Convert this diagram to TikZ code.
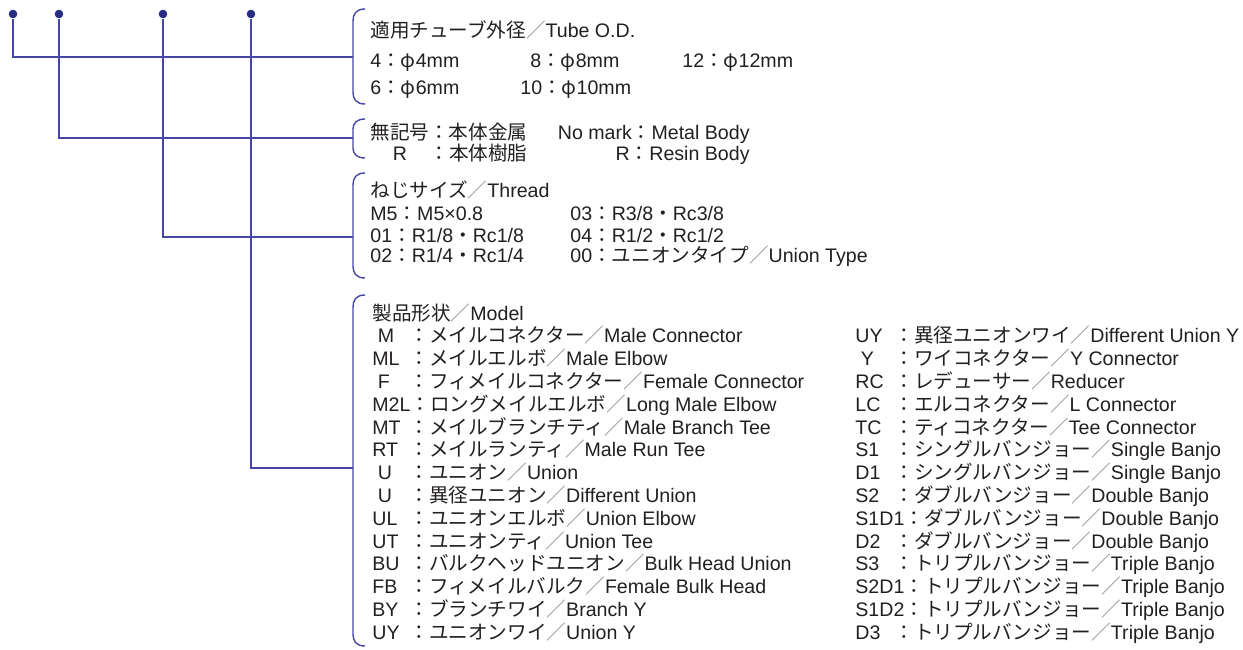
\documentclass[tikz,border=0pt]{standalone}
\usepackage{fontspec}
\setmainfont{Liberation Sans}
\newfontfamily\jp{Noto Sans CJK JP}
\usepackage{tikz}
\definecolor{lnblue}{RGB}{70,70,165}
\definecolor{dotblue}{RGB}{40,44,130}
\definecolor{txtgray}{RGB}{35,31,32}
\definecolor{slashgray}{RGB}{140,140,140}
\newcommand\J[1]{{\jp #1}}
\newcommand\slsh{{\color{slashgray}\jp ／}}
\newlength\lblw
\newcommand\lbl[2]{\settowidth\lblw{#2}\ifdim\lblw<#1\relax\makebox[#1][l]{#2}\else #2\fi}
\tikzset{
  dotnode/.style={circle, fill=dotblue, inner sep=0pt, minimum size=4.3pt},
  wire/.style={draw=lnblue, line width=0.65pt},
  brk/.style={draw=lnblue, line width=0.7pt},
  txt/.style={anchor=base west, inner sep=0pt, text=txtgray,
    font=\fontsize{9.8}{11}\selectfont}
}

\begin{document}
\begin{tikzpicture}[x=0.5pt, y=-0.5pt]
  \useasboundingbox (0,0) rectangle (1243,649);

  % Code positions
  \node[dotnode] (d1) at (13,14) {};
  \node[dotnode] (d2) at (59,14) {};
  \node[dotnode] (d3) at (163,14) {};
  \node[dotnode] (d4) at (251,14) {};

  % Brackets
  \coordinate (b1) at (353,57);
  \coordinate (b2) at (353,138);
  \coordinate (b3) at (353,237);
  \coordinate (b4) at (353,468);
  \draw[brk] (365,9) .. controls (356,9) and (353,14) .. (353,21) -- (353,92)
    .. controls (353,99) and (356,104) .. (365,104);
  \draw[brk] (365,119) .. controls (357,119) and (353,123) .. (353,129) -- (353,148)
    .. controls (353,154) and (357,158) .. (365,158);
  \draw[brk] (365,173) .. controls (356,173) and (353,178) .. (353,185) -- (353,266)
    .. controls (353,273) and (356,278) .. (365,278);
  \draw[brk] (365,295) .. controls (356,295) and (353,300) .. (353,307) -- (353,634)
    .. controls (353,641) and (356,646) .. (365,646);

  % Connectors
  \draw[wire] (d1) |- (b1);
  \draw[wire] (d2) |- (b2);
  \draw[wire] (d3) |- (b3);
  \draw[wire] (d4) |- (b4);

  % Tube O.D.
  \node[txt] (t1) at (370,37) {\J{適用チューブ外径}\slsh Tube O.D.};
  \node[txt] (t2) at (370,67) {4\J{：φ}4mm};
  \node[txt] (t3) at (530,67) {8\J{：φ}8mm};
  \node[txt] (t4) at (682,67) {12\J{：φ}12mm};
  \node[txt] (t5) at (370,94) {6\J{：φ}6mm};
  \node[txt] (t6) at (520,94) {10\J{：φ}10mm};

  % Body material
  \node[txt] (r1) at (370,139) {\J{無記号：本体金属}};
  \node[txt, anchor=base] (r2) at (400,160) {R};
  \node[txt] (r3) at (429,160) {\J{：本体樹脂}};
  \node[txt, anchor=base east] (r4) at (750,139) {No mark\J{：}Metal Body};
  \node[txt, anchor=base east] (r5) at (750,160) {R\J{：}Resin Body};

  % Thread
  \node[txt] (s1) at (370,197) {\J{ねじサイズ}\slsh Thread};
  \node[txt] (s2) at (370,220) {M5\J{：}M5×0.8};
  \node[txt] (s3) at (370,242) {01\J{：}R1/8\J{・}Rc1/8};
  \node[txt] (s4) at (370,262) {02\J{：}R1/4\J{・}Rc1/4};
  \node[txt] (s5) at (570,220) {03\J{：}R3/8\J{・}Rc3/8};
  \node[txt] (s6) at (570,242) {04\J{：}R1/2\J{・}Rc1/2};
  \node[txt] (s7) at (570,262) {00\J{：ユニオンタイプ}\slsh Union Type};

  % Model
  \node[txt] (m0) at (372,320) {\J{製品形状}\slsh Model};
  \foreach \i/\lab/\ja/\en in {
      1/{\ M}/メイルコネクター/Male Connector,
      2/ML/メイルエルボ/Male Elbow,
      3/{\ F}/フィメイルコネクター/Female Connector,
      4/M2L/ロングメイルエルボ/Long Male Elbow,
      5/MT/メイルブランチティ/Male Branch Tee,
      6/RT/メイルランティ/Male Run Tee,
      7/{\ U}/ユニオン/Union,
      8/{\ U}/異径ユニオン/Different Union,
      9/UL/ユニオンエルボ/Union Elbow,
      10/UT/ユニオンティ/Union Tee,
      11/BU/バルクヘッドユニオン/Bulk Head Union,
      12/FB/フィメイルバルク/Female Bulk Head,
      13/BY/ブランチワイ/Branch Y,
      14/UY/ユニオンワイ/Union Y} {
    \node[txt] (m\i) at (372,{320+22.8*\i}) {\lbl{18.5pt}{\lab}\J{：\ja}\slsh\en};
  }
  \foreach \i/\lab/\ja/\en in {
      1/UY/異径ユニオンワイ/Different Union Y,
      2/{\ Y}/ワイコネクター/Y Connector,
      3/RC/レデューサー/Reducer,
      4/LC/エルコネクター/L Connector,
      5/TC/ティコネクター/Tee Connector,
      6/S1/シングルバンジョー/Single Banjo,
      7/D1/シングルバンジョー/Single Banjo,
      8/S2/ダブルバンジョー/Double Banjo,
      9/S1D1/ダブルバンジョー/Double Banjo,
      10/D2/ダブルバンジョー/Double Banjo,
      11/S3/トリプルバンジョー/Triple Banjo,
      12/S2D1/トリプルバンジョー/Triple Banjo,
      13/S1D2/トリプルバンジョー/Triple Banjo,
      14/D3/トリプルバンジョー/Triple Banjo} {
    \node[txt] (n\i) at (855,{320+22.8*\i}) {\lbl{19.5pt}{\lab}\J{：\ja}\slsh\en};
  }

\end{tikzpicture}
\end{document}
